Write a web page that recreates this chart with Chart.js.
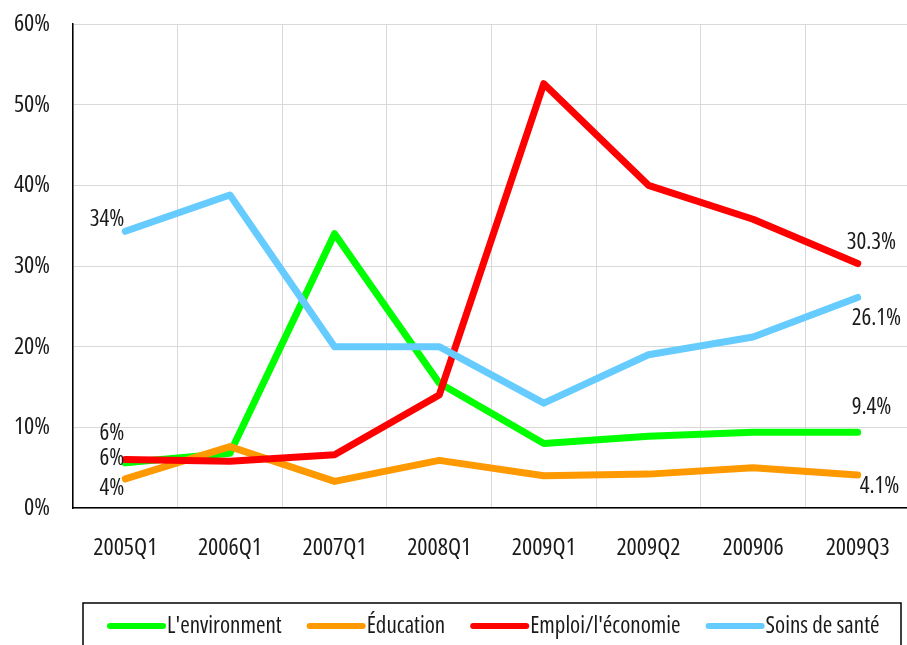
<!DOCTYPE html>
<html>
<head>
<meta charset="utf-8">
<script src="https://cdn.jsdelivr.net/npm/chart.js@4.4.1/dist/chart.umd.min.js"></script>
<style>
  html, body { margin: 0; padding: 0; background: #fff; }
  #wrap { width: 907px; height: 645px; overflow: hidden; position: relative; }
  canvas { display: block; }
</style>
</head>
<body>
<div id="wrap"><canvas id="myChart" width="920" height="645"></canvas></div>
<script>
// data
const categories = ['2005Q1', '2006Q1', '2007Q1', '2008Q1', '2009Q1', '2009Q2', '200906', '2009Q3'];
const seriesNames = ["L'environment", 'Éducation', "Emploi/l'économie", 'Soins de santé'];
const environment = [5.6, 6.8, 34.0, 15.5, 8.0, 8.9, 9.4, 9.4];
const education = [3.6, 7.6, 3.3, 5.9, 4.0, 4.2, 5.0, 4.1];
const emploi = [6.0, 5.8, 6.6, 14.0, 52.6, 40.0, 35.8, 30.3];
const sante = [34.3, 38.8, 20.0, 20.0, 13.0, 19.0, 21.2, 26.1];
const firstLabels = ['6%', '4%', '6%', '34%'];
const lastLabels = ['9.4%', '4.1%', '30.3%', '26.1%'];
const yTicks = [0, 10, 20, 30, 40, 50, 60];

const colors = ['#00ff00', '#ff9900', '#ff0000', '#66ccff'];
const FAMILY = "'Open Sans', 'Roboto Condensed', sans-serif";
const STRETCH = 'condensed';
const TEXT = '#1a1a1a';

// label offsets from the first / last point of each series
const firstOffsets = [[-1, -29], [-1, 9], [-1, -1], [-1, -12]];
const lastOffsets = [[-6, -25], [2, 12], [-11, -21], [-6, 21]];

const pointLabels = {
  id: 'pointLabels',
  afterDatasetsDraw(chart) {
    const ctx = chart.ctx;
    ctx.save();
    ctx.font = STRETCH + ' 23px ' + FAMILY;
    ctx.fillStyle = TEXT;
    ctx.textBaseline = 'middle';
    chart.data.datasets.forEach((ds, i) => {
      const pts = chart.getDatasetMeta(i).data;
      const first = pts[0];
      const last = pts[pts.length - 1];
      ctx.textAlign = 'right';
      ctx.fillText(firstLabels[i], first.x + firstOffsets[i][0], first.y + firstOffsets[i][1]);
      ctx.textAlign = 'left';
      ctx.fillText(lastLabels[i], last.x + lastOffsets[i][0], last.y + lastOffsets[i][1]);
    });
    ctx.restore();
  },
};

const boxLegend = {
  id: 'boxLegend',
  afterDraw(chart) {
    const ctx = chart.ctx;
    ctx.save();
    ctx.strokeStyle = '#000';
    ctx.lineWidth = 1.5;
    ctx.strokeRect(83, 603, 818, 60);
    ctx.font = STRETCH + ' 23px ' + FAMILY;
    ctx.textBaseline = 'middle';
    ctx.fillStyle = TEXT;
    ctx.lineCap = 'round';
    ctx.lineWidth = 6;
    let x = 110;
    const y = 626;
    seriesNames.forEach((name, i) => {
      ctx.strokeStyle = colors[i];
      ctx.beginPath();
      ctx.moveTo(x, y);
      ctx.lineTo(x + 53, y);
      ctx.stroke();
      x += 57;
      ctx.fillText(name, x, y);
      x += ctx.measureText(name).width + 28;
    });
    ctx.restore();
  },
};

const seriesData = [environment, education, emploi, sante];
// chart.js only accepts css font styles, so the stretch keyword rides in the weight slot
const tickFont = { family: FAMILY, size: 24, weight: STRETCH };

new Chart(document.getElementById('myChart'), { // eslint-disable-line
  type: 'line',
  data: {
    labels: categories,
    datasets: seriesNames.map((name, i) => ({
      label: name,
      data: seriesData[i],
      borderColor: colors[i],
      backgroundColor: colors[i],
      borderWidth: 7,
      borderCapStyle: 'round',
      borderJoinStyle: 'round',
      pointRadius: 0,
      tension: 0,
      fill: false,
      order: 4 - i,
    })),
  },
  options: {
    responsive: false,
    animation: false,
    layout: { padding: { top: 24, right: 10, left: 0, bottom: 0 } },
    plugins: {
      legend: { display: false },
      tooltip: { enabled: false },
    },
    scales: {
      x: {
        offset: true,
        grid: { offset: true, color: '#d9d9d9', lineWidth: 1, drawTicks: false },
        border: { color: '#000', width: 1.5 },
        ticks: { color: TEXT, font: tickFont, padding: 26, maxRotation: 0 },
        afterFit(scale) {
          scale.height = 137;
          scale.paddingLeft = 0;
          scale.paddingRight = 0;
        },
      },
      y: {
        min: 0,
        max: 60,
        afterBuildTicks(scale) { scale.ticks = yTicks.map(v => ({ value: v })); },
        grid: { color: '#d9d9d9', lineWidth: 1, drawTicks: false },
        border: { color: '#000', width: 1.5 },
        ticks: {
          color: TEXT,
          font: tickFont,
          padding: 23,
          callback: v => v + '%',
        },
        afterFit(scale) {
          scale.width = 73;
          scale.paddingTop = 0;
          scale.paddingBottom = 0;
        },
      },
    },
  },
  plugins: [pointLabels, boxLegend],
});
</script>
</body>
</html>
